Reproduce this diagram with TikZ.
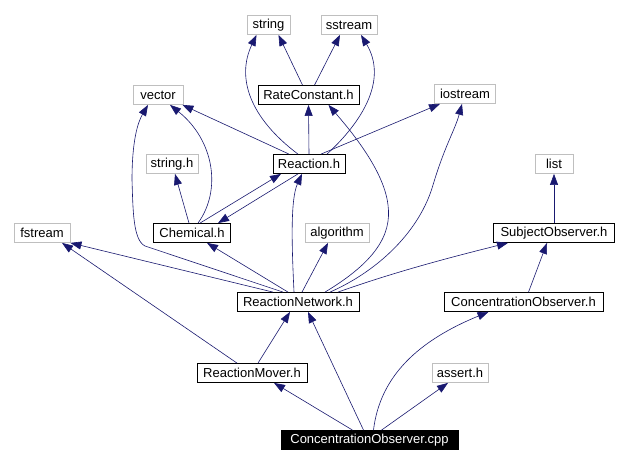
\documentclass[tikz,border=0pt]{standalone}
\usepackage{fontspec}
\setmainfont{Liberation Sans}
\usetikzlibrary{arrows.meta}
\definecolor{edgeblue}{RGB}{25,25,112}
\definecolor{extgray}{RGB}{191,191,191}
\tikzset{
  file/.style={draw, line width=0.8pt, inner sep=0pt, minimum height=19pt,
    font=\fontsize{13}{15}\selectfont},
  ext/.style={file, draw=extgray},
  hdr/.style={file, draw=black},
  src/.style={file, draw=black, fill=black, text=white},
  dep/.style={edgeblue, line width=0.6pt, -{Triangle[length=11pt,width=8pt]}},
}
\begin{document}
\begin{tikzpicture}[x=1pt,y=-1pt]
  \useasboundingbox[fill=white] (0,0) rectangle (628,465);
  % system headers
  \node[ext, minimum width=43pt] (str) at (268.5,25) {string};
  \node[ext, minimum width=56pt] (sst) at (349,25) {sstream};
  \node[ext, minimum width=50pt] (vec) at (158,95) {vector};
  \node[ext, minimum width=61pt] (io) at (465,94) {iostream};
  \node[ext, minimum width=52pt] (strh) at (172,164) {string.h};
  \node[ext, minimum width=38pt] (lst) at (554,164) {list};
  \node[ext, minimum width=56pt] (fst) at (42,233) {fstream};
  \node[ext, minimum width=64pt] (alg) at (337,233) {algorithm};
  \node[ext, minimum width=56pt] (asrt) at (460,373) {assert.h};
  % project headers
  \node[hdr, minimum width=101pt] (rate) at (308.5,95) {RateConstant.h};
  \node[hdr, minimum width=72pt] (react) at (309,164) {Reaction.h};
  \node[hdr, minimum width=77pt] (chem) at (192,233) {Chemical.h};
  \node[hdr, minimum width=121pt] (subj) at (554,233) {SubjectObserver.h};
  \node[hdr, minimum width=122pt] (net) at (298,302) {ReactionNetwork.h};
  \node[hdr, minimum width=159pt] (cobs) at (523.5,302) {ConcentrationObserver.h};
  \node[hdr, minimum width=110pt] (mov) at (252,373) {ReactionMover.h};
  \node[src, minimum width=177pt] (cpp) at (369.5,440) {ConcentrationObserver.cpp};
  % RateConstant.h
  \draw[dep] ([xshift=-6pt]rate.north) -- ([xshift=10pt]str.south);
  \draw[dep] ([xshift=6pt]rate.north) -- ([xshift=-9pt]sst.south);
  % Reaction.h
  \draw[dep] ([xshift=-11pt]react.north) .. controls (250,118) and (236,78) .. ([xshift=-12pt]str.south);
  \draw[dep] ([xshift=18pt]react.north) .. controls (362,122) and (388,80) .. ([xshift=12pt]sst.south);
  \draw[dep] ([xshift=-20pt]react.north) -- ([xshift=-1pt]vec.south east);
  \draw[dep] (react.north) -- (rate.south);
  \draw[dep] ([xshift=12pt]react.north) -- ([xshift=-25pt]io.south);
  \draw[dep] ([xshift=-11pt]react.south) -- ([xshift=26pt]chem.north);
  % Chemical.h
  \draw[dep] ([xshift=6pt]chem.north) .. controls (222,190) and (214,140) .. ([xshift=12pt]vec.south);
  \draw[dep] ([xshift=-3pt]chem.north) -- ([xshift=3pt]strh.south);
  \draw[dep] ([xshift=8pt]chem.north) -- ([xshift=-28pt]react.south);
  % ReactionNetwork.h
  \draw[dep] ([xshift=-15pt]net.north) -- (145,246) .. controls (133,240) and (133,210) .. (132,180)
    .. controls (132,140) and (138,122) .. ([xshift=-10pt]vec.south);
  \draw[dep] ([xshift=-25pt]net.north) -- (fst.south east);
  \draw[dep] ([xshift=-10pt]net.north) -- ([xshift=15pt]chem.south);
  \draw[dep] ([xshift=-4pt]net.north) .. controls (292,250) and (290,200) .. ([xshift=-7pt]react.south);
  \draw[dep] ([xshift=4pt]net.north) -- ([xshift=-9pt]alg.south);
  \draw[dep] ([xshift=27pt]net.north) .. controls (375,262) and (392,235) .. (388,205)
    .. controls (384,170) and (350,130) .. ([xshift=20pt]rate.south);
  \draw[dep] ([xshift=32pt]net.north) .. controls (380,270) and (420,230) .. (433,185)
    .. controls (445,145) and (455,130) .. ([xshift=-3pt]io.south);
  \draw[dep] ([xshift=40pt]net.north) .. controls (400,270) and (460,255) .. ([xshift=-46pt]subj.south);
  % SubjectObserver.h and ConcentrationObserver.h
  \draw[dep] (subj.north) -- (lst.south);
  \draw[dep] ([xshift=5pt]cobs.north) -- ([xshift=-7pt]subj.south);
  % ReactionMover.h
  \draw[dep] ([xshift=-15pt]mov.north) -- ([xshift=20pt]fst.south);
  \draw[dep] ([xshift=6pt]mov.north) -- ([xshift=-8pt]net.south);
  % ConcentrationObserver.cpp
  \draw[dep] ([xshift=-17pt]cpp.north) -- ([xshift=22pt]mov.south);
  \draw[dep] ([xshift=-6pt]cpp.north) -- ([xshift=10pt]net.south);
  \draw[dep] ([xshift=4pt]cpp.north) .. controls (380,375) and (420,340) .. ([xshift=-35pt]cobs.south);
  \draw[dep] ([xshift=12pt]cpp.north) -- ([xshift=-12pt]asrt.south);
\end{tikzpicture}
\end{document}
